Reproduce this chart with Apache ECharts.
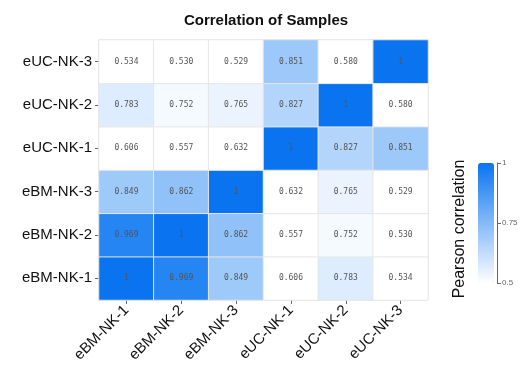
<!DOCTYPE html>
<html><head><meta charset="utf-8">
<script src="https://cdn.jsdelivr.net/npm/echarts@6/dist/echarts.min.js"></script>
<style>html,body{margin:0;padding:0;background:#fff}#c{width:523px;height:366px}</style>
</head><body><div id="c"></div>
<script>
const samples = ['eBM-NK-1','eBM-NK-2','eBM-NK-3','eUC-NK-1','eUC-NK-2','eUC-NK-3'];
// rows follow samples order (bottom to top), columns follow samples order (left to right)
const row1 = [1, 0.969, 0.849, 0.606, 0.783, 0.534];
const row2 = [0.969, 1, 0.862, 0.557, 0.752, 0.530];
const row3 = [0.849, 0.862, 1, 0.632, 0.765, 0.529];
const row4 = [0.606, 0.557, 0.632, 1, 0.827, 0.851];
const row5 = [0.783, 0.752, 0.765, 0.827, 1, 0.580];
const row6 = [0.534, 0.530, 0.529, 0.851, 0.580, 1];
const scaleTicks = [0.5, 0.75, 1];
const rows = [row1,row2,row3,row4,row5,row6];
const data = [];
rows.forEach((r, yi) => r.forEach((v, xi) => data.push([xi, yi, v])));

const chart = echarts.init(document.getElementById('c'));
chart.setOption({
  animation: false,
  backgroundColor: '#fff',
  title: {
    text: 'Correlation of Samples', left: 261, top: 8, textAlign: 'center',
    textStyle: {fontFamily: 'Liberation Sans', fontSize: 15, fontWeight: 'bold', color: '#111'}
  },
  grid: [
    {left: 99, right: 95, top: 40, bottom: 66, show: true, borderColor: '#dddddd', borderWidth: 1},
    {left: 478, width: 19, top: 163, height: 120, show: false}
  ],
  xAxis: [
    {type: 'category', data: samples, gridIndex: 0,
     axisLine: {show: false}, splitLine: {show: false},
     axisTick: {show: true, alignWithLabel: true, length: 4, lineStyle: {color: '#666'}},
     axisLabel: {rotate: 45, margin: 8, fontFamily: 'Liberation Sans', fontSize: 15, color: '#111'}},
    {type: 'value', gridIndex: 1, show: false, min: 0, max: 1}
  ],
  yAxis: [
    {type: 'category', data: samples, gridIndex: 0,
     axisLine: {show: false}, splitLine: {show: false},
     axisTick: {show: true, alignWithLabel: true, length: 4, lineStyle: {color: '#666'}},
     axisLabel: {margin: 7, fontFamily: 'Liberation Sans', fontSize: 15, color: '#111'}},
    {type: 'value', gridIndex: 1, position: 'right', min: 0.5, max: 1, interval: 0.25,
     axisLine: {show: true, onZero: false, lineStyle: {color: '#666'}},
     axisTick: {show: true, length: 4, lineStyle: {color: '#666'}},
     splitLine: {show: false},
     axisLabel: {margin: 5, fontSize: 8, color: '#666', fontFamily: 'Liberation Sans',
       formatter: v => scaleTicks.includes(v) ? String(v) : ''}}
  ],
  visualMap: [
    {
      type: 'continuous', min: 0.5, max: 1, seriesIndex: 0, show: false,
      inRange: {color: ['#ffffff', '#ffffff', '#ffffff', '#ffffff', '#ffffff',
                        '#f7fbff', '#cfe4fd', '#9dc9fa', '#68abf7', '#3590f4', '#0a74f0']}
    },
    {
      type: 'continuous', min: 0.5, max: 1, seriesIndex: 1,
      calculable: false, show: true, orient: 'vertical',
      left: 478, top: 163, itemWidth: 16, itemHeight: 120, padding: 0,
      text: ['', ''], showLabel: false,
      inRange: {color: ['#ffffff', '#0a74f0']}
    }
  ],
  graphic: [{
    type: 'text', x: 460, y: 229, rotation: Math.PI / 2,
    style: {text: 'Pearson correlation', font: '16px "Liberation Sans"', fill: '#111',
            align: 'center', verticalAlign: 'middle'}
  }],
  series: [{
    type: 'heatmap', data: data, xAxisIndex: 0, yAxisIndex: 0,
    itemStyle: {borderColor: '#e6e6e6', borderWidth: 1},
    label: {show: true, fontFamily: 'DejaVu Sans Mono', fontSize: 8, color: '#555',
      formatter: p => p.value[2] === 1 ? '1' : p.value[2].toFixed(3)},
    emphasis: {disabled: true}
  }, {
    type: 'scatter', data: [], xAxisIndex: 1, yAxisIndex: 1
  }]
});
</script></body></html>
